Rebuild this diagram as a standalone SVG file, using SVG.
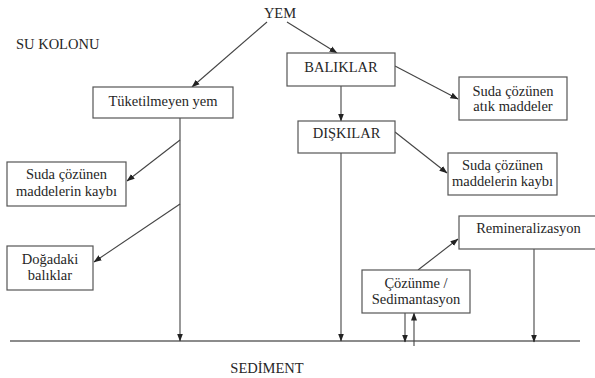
<svg xmlns="http://www.w3.org/2000/svg" width="595" height="378" viewBox="0 0 595 378">
<defs>
<marker id="ah" markerUnits="userSpaceOnUse" markerWidth="8" markerHeight="8" viewBox="0 0 8 8" refX="7.5" refY="4" orient="auto">
<path d="M0,1 L8,4 L0,7 Z" fill="#222"/>
</marker>
</defs>
<style>
text{font-family:'Liberation Serif','Times New Roman',serif;font-size:14.5px;fill:#262626;text-anchor:middle}
.box{fill:#fff;stroke:#555;stroke-width:1.2}
.c{stroke:#444;stroke-width:1.1;fill:none}
.a{marker-end:url(#ah)}
</style>
<rect width="595" height="378" fill="#fff"/>
<text x="280" y="18">YEM</text>
<text x="16" y="49" style="text-anchor:start">SU KOLONU</text>
<text x="267" y="373">SEDİMENT</text>
<g id="connectors">
<line class="c" x1="10" y1="341" x2="580" y2="341" style="stroke:#666;stroke-width:1.6"/>
<line class="c a" x1="267" y1="22" x2="192" y2="87"/>
<line class="c a" x1="180" y1="118" x2="180" y2="341"/>
<line class="c a" x1="180" y1="140" x2="127" y2="181"/>
<line class="c a" x1="180" y1="204" x2="94" y2="262"/>
<line class="c a" x1="287" y1="22" x2="337" y2="53"/>
<line class="c a" x1="341" y1="86" x2="341" y2="121"/>
<line class="c a" x1="341" y1="153" x2="341" y2="341"/>
<line class="c a" x1="395" y1="66" x2="458" y2="99"/>
<line class="c a" x1="395" y1="132" x2="447" y2="173"/>
<line class="c a" x1="418" y1="270" x2="458" y2="239"/>
<line class="c a" x1="405" y1="313" x2="405" y2="342"/>
<line class="c a" x1="414" y1="346" x2="414" y2="313"/>
<line class="c a" x1="534" y1="249" x2="534" y2="342"/>
</g>
<g id="tuketilmeyen">
<rect class="box" x="93" y="87" width="140" height="31"/>
<text x="163" y="106">Tüketilmeyen yem</text>
</g>
<g id="suda-kaybi-left">
<rect class="box" x="7" y="162" width="119" height="44"/>
<text x="66.5" y="179">Suda çözünen</text>
<text x="66.5" y="196">maddelerin kaybı</text>
</g>
<g id="dogadaki">
<rect class="box" x="7" y="246" width="86" height="44"/>
<text x="50" y="264">Doğadaki</text>
<text x="50" y="280">balıklar</text>
</g>
<g id="baliklar">
<rect class="box" x="287" y="53" width="108" height="33"/>
<text x="341" y="72">BALIKLAR</text>
</g>
<g id="diskilar">
<rect class="box" x="298" y="121" width="97" height="32"/>
<text x="346.5" y="138">DIŞKILAR</text>
</g>
<g id="atik">
<rect class="box" x="459" y="77" width="108" height="43"/>
<text x="513" y="96">Suda çözünen</text>
<text x="513" y="111">atık maddeler</text>
</g>
<g id="suda-kaybi-right">
<rect class="box" x="448" y="153" width="109" height="42"/>
<text x="502.5" y="170">Suda çözünen</text>
<text x="502.5" y="186">maddelerin kaybı</text>
</g>
<g id="remineralizasyon">
<rect class="box" x="459" y="216" width="140" height="33"/>
<text x="528.5" y="233">Remineralizasyon</text>
</g>
<g id="cozunme">
<rect class="box" x="362" y="270" width="108" height="43"/>
<text x="416" y="288">Çözünme /</text>
<text x="416" y="304">Sedimantasyon</text>
</g>
</svg>
